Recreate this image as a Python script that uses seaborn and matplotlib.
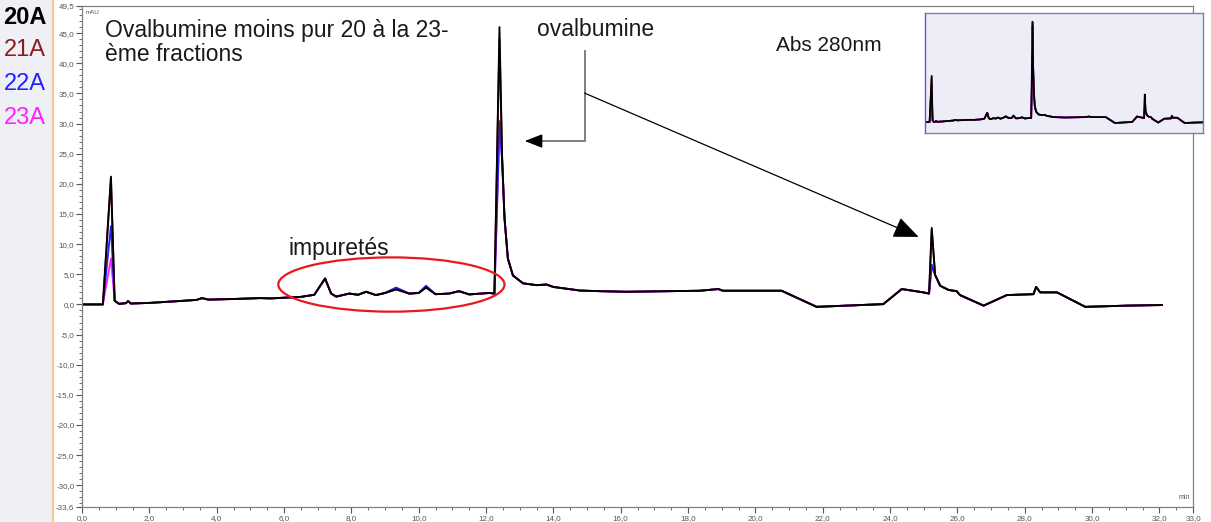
import matplotlib
matplotlib.use("Agg")
import numpy as np
import pandas as pd
import matplotlib.pyplot as plt
from matplotlib.patches import Ellipse, Rectangle
from matplotlib.lines import Line2D
from matplotlib.ticker import MultipleLocator, FixedLocator, FuncFormatter
from matplotlib import font_manager
import seaborn as sns

# --- chromatogram data (retention time in min, absorbance in mAU) ---
time_min = [0.0, 0.62, 0.86, 0.97, 1.1, 1.3, 1.37, 1.45, 2.0, 3.0, 3.4, 3.57,
            3.75, 4.5, 5.3, 5.6, 6.5, 6.9, 7.22, 7.4, 7.55, 7.94, 8.2, 8.44,
            8.73, 9.0, 9.33, 9.72, 10.0, 10.22, 10.5, 10.9, 11.2, 11.5, 12.1,
            12.25, 12.4, 12.48, 12.55, 12.65, 12.8, 13.1, 13.5, 13.8, 14.0, 14.8,
            15.37, 16.17, 18.35, 18.9, 19.04, 20.78, 21.82, 23.8, 24.35, 24.99,
            25.16, 25.24, 25.34, 25.49, 25.74, 25.98, 26.08, 26.78, 27.47,
            28.26, 28.34, 28.46, 28.96, 29.8, 31.04, 32.08]
trace_20A = [0.0, 0.0, 21.2, 0.6, 0.1, 0.2, 0.55, 0.15, 0.25, 0.6, 0.75, 1.05,
             0.8, 0.9, 1.05, 1.0, 1.25, 1.6, 4.3, 1.8, 1.3, 1.8, 1.6, 2.1,
             1.55, 1.9, 2.5, 1.8, 1.9, 2.8, 1.7, 1.8, 2.2, 1.66, 1.9,
             1.8, 46.0, 24.0, 14.3, 7.6, 4.8, 3.5, 3.2, 3.3, 2.9, 2.3,
             2.2, 2.1, 2.27, 2.55, 2.27, 2.27, -0.4, 0.05, 2.55, 2.0,
             1.8, 12.7, 4.9, 3.1, 2.4, 2.2, 1.55, -0.2, 1.55,
             1.7, 2.9, 2.0, 2.0, -0.4, -0.2, -0.1]

# apex heights of the three main peaks for each fraction
apex_times = [0.86, 12.4, 25.24]
apex_20A = [21.2, 46.0, 12.7]
apex_21A = [20.9, 44.0, 12.4]
apex_22A = [13.0, 30.4, 6.6]
apex_23A = [7.6, 28.5, 6.2]

# small impurity bumps where the later fractions sit slightly higher
bump_times = [9.33, 10.22]
bump_21A = [2.5, 2.8]
bump_22A = [2.8, 3.1]
bump_23A = [2.7, 3.0]

fractions = ["20A", "21A", "22A", "23A"]
fraction_colors = ["#000000", "#8b1c22", "#2222ff", "#ff22ff"]

y_ticks = [-33.6, -30, -25, -20, -15, -10, -5, 0, 5, 10, 15, 20, 25, 30, 35, 40, 45, 49.5]
x_ticks = [0, 2, 4, 6, 8, 10, 12, 14, 16, 18, 20, 22, 24, 26, 28, 30, 32, 33]

# --- build a long table, one trace per fraction ---
apex_by_fraction = {"20A": apex_20A, "21A": apex_21A, "22A": apex_22A, "23A": apex_23A}
bump_by_fraction = {"20A": None, "21A": bump_21A, "22A": bump_22A, "23A": bump_23A}
frames = []
for frac in fractions:
    vals = list(trace_20A)
    for t, v in zip(apex_times, apex_by_fraction[frac]):
        vals[time_min.index(t)] = v
    if bump_by_fraction[frac] is not None:
        for t, v in zip(bump_times, bump_by_fraction[frac]):
            vals[time_min.index(t)] = v
    frames.append(pd.DataFrame({"time": time_min, "mAU": vals, "fraction": frac}))
df = pd.concat(frames, ignore_index=True)
palette = dict(zip(fractions, fraction_colors))
draw_order = ["23A", "22A", "21A", "20A"]

sns.set_theme(style="white")
names = {f.name for f in font_manager.fontManager.ttflist}
plt.rcParams["font.family"] = ["Liberation Sans", "DejaVu Sans"]
narrow = "Liberation Sans Narrow" if "Liberation Sans Narrow" in names else "Liberation Sans"

W, H = 1211, 522
fig = plt.figure(figsize=(W / 100, H / 100), dpi=100)
fig.patch.set_facecolor("white")


def fx(px):
    return px / W


def fy(py):
    return 1 - py / H


# left fraction panel
fig.patches.append(Rectangle((0, 0), fx(52), 1, transform=fig.transFigure,
                             facecolor="#eef0f5", edgecolor="none", zorder=0))
fig.lines.append(Line2D([fx(53), fx(53)], [0, 1], transform=fig.transFigure,
                        color="#f0c890", lw=1.6))
for i, (frac, col) in enumerate(zip(fractions, fraction_colors)):
    fig.text(fx(25), fy(17 + 33.5 * i), frac, color=col, fontsize=17,
             fontweight="bold" if frac == "20A" else "normal",
             family=[narrow, "DejaVu Sans"], ha="center", va="center")

# main chromatogram
ax = fig.add_axes([fx(82), fy(507), fx(1193) - fx(82), fy(6) - fy(507)])
sns.lineplot(data=df, x="time", y="mAU", hue="fraction", hue_order=draw_order,
             palette=palette, estimator=None, sort=False, units="fraction",
             legend=False, lw=1.35, ax=ax)
ax.set_xlim(0, 33)
ax.set_ylim(-33.6, 49.5)
ax.set_xlabel("")
ax.set_ylabel("")

comma = FuncFormatter(lambda v, p: f"{v:.1f}".replace(".", ","))
ax.yaxis.set_major_locator(FixedLocator(y_ticks))
ax.yaxis.set_minor_locator(MultipleLocator(1.0))
ax.xaxis.set_major_locator(FixedLocator(x_ticks))
ax.xaxis.set_minor_locator(MultipleLocator(0.5))
ax.yaxis.set_major_formatter(comma)
ax.xaxis.set_major_formatter(comma)
ax.tick_params(which="major", direction="out", length=4, width=0.8, color="#555555",
               labelsize=5.8, labelcolor="#555555", pad=1.5,
               left=True, bottom=True)
ax.tick_params(which="minor", direction="out", length=2, width=0.6, color="#555555",
               left=True, bottom=True)
for s in ax.spines.values():
    s.set_color("#808080")
    s.set_linewidth(0.9)

ax.text(0.003, 0.992, "mAU", transform=ax.transAxes, fontsize=4.5, color="#555555",
        ha="left", va="top")
ax.text(0.997, 0.012, "min", transform=ax.transAxes, fontsize=5, color="#555555",
        ha="right", va="bottom")

# impurity region
ax.add_patch(Ellipse((9.19, 3.3), 6.72, 9.0, fill=False, edgecolor="#e8191c", lw=1.6,
                     zorder=5))

# elbow pointer toward the ovalbumin peak (grey shaft, black head)
ax.plot([14.93, 14.93, 13.45], [42.2, 27.1, 27.1], color="#7f7f7f", lw=1.4,
        solid_capstyle="butt", solid_joinstyle="miter")
ax.annotate("", xy=(13.15, 27.1), xytext=(13.5, 27.1),
            arrowprops=dict(arrowstyle="-|>,head_length=0.9,head_width=0.35",
                            color="black", lw=1.0, shrinkA=0, shrinkB=0,
                            mutation_scale=12))
# diagonal pointer toward the late peak
ax.annotate("", xy=(24.85, 11.2), xytext=(14.93, 35.05),
            arrowprops=dict(arrowstyle="-|>,head_length=1.3,head_width=0.55",
                            color="black", lw=0.9, shrinkA=0, shrinkB=0,
                            mutation_scale=12, facecolor="black"))

# text labels
fig.text(fx(105), fy(37), "Ovalbumine moins pur 20 à la 23-", fontsize=16.5,
         color="#1a1a1a", ha="left", va="baseline")
fig.text(fx(105), fy(61), "ème fractions", fontsize=16.5, color="#1a1a1a",
         ha="left", va="baseline")
fig.text(fx(537), fy(36), "ovalbumine", fontsize=16.5, color="#1a1a1a",
         ha="left", va="baseline")
fig.text(fx(776), fy(51), "Abs 280nm", fontsize=15, color="#1a1a1a",
         ha="left", va="baseline")
fig.text(fx(288), fy(255), "impuretés", fontsize=16.5, color="#1a1a1a",
         ha="left", va="baseline")

# overview inset
axi = fig.add_axes([fx(925), fy(133), fx(1203) - fx(925), fy(13) - fy(133)])
axi.set_facecolor("#ededf7")
sns.lineplot(data=df, x="time", y="mAU", hue="fraction", hue_order=draw_order,
             palette=palette, estimator=None, sort=False, units="fraction",
             legend=False, lw=1.2, ax=axi)
axi.set_xlim(0.1, 31.9)
axi.set_ylim(-5, 50)
axi.set_xticks([])
axi.set_yticks([])
axi.set_xlabel("")
axi.set_ylabel("")
for s in axi.spines.values():
    s.set_color("#7c80a8")
    s.set_linewidth(1.0)
axi.spines["left"].set_color("#5a5ad0")

fig.savefig("out.png", dpi=100)
